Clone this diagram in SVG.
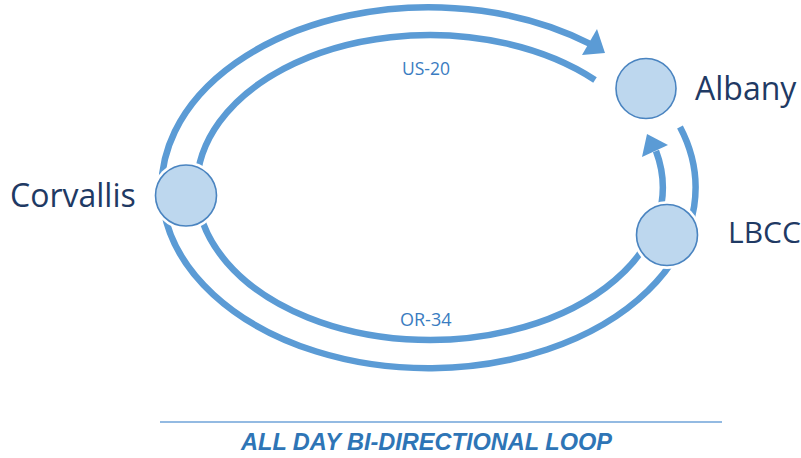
<svg xmlns="http://www.w3.org/2000/svg" width="801" height="458" viewBox="0 0 801 458">
<style>
.loop{fill:none;stroke:#5B9BD5;stroke-width:6.5}
.head{fill:#5B9BD5}
.halo{fill:#fff}
.node{fill:#BDD7EE;stroke:#4A84C0;stroke-width:1.6}
.name{font-family:"Open Sans","Liberation Sans",sans-serif;fill:#1F3A64}
.road{font-family:"Open Sans","Liberation Sans",sans-serif;fill:#3A7CC1}
.title{font-family:"Liberation Sans",Arial,sans-serif;font-weight:bold;font-style:italic;fill:#2E75B6}
</style>
<rect width="801" height="458" fill="#fff"/>
<g id="connectors">
  <path class="loop" d="M 680 127 A 267 180.5 0 1 1 589.5 43.7"/>
  <polygon class="head" points="597,29 605,53 582,55"/>
  <path class="loop" d="M 595 80 A 233 152.5 0 1 0 656 151"/>
  <polygon class="head" points="647,134 668,145 642,157"/>
  <text class="road" x="402" y="75" font-size="17.5">US-20</text>
  <text class="road" x="400" y="326" font-size="18">OR-34</text>
</g>
<g id="corvallis">
  <circle class="halo" cx="186" cy="195.5" r="34"/>
  <circle class="node" cx="186" cy="195.5" r="30.5"/>
  <text class="name" x="10" y="207" font-size="32">Corvallis</text>
</g>
<g id="albany">
  <circle class="halo" cx="646" cy="88.5" r="33.5"/>
  <circle class="node" cx="646" cy="88.5" r="30"/>
  <text class="name" x="695" y="100" font-size="32">Albany</text>
</g>
<g id="lbcc">
  <circle class="halo" cx="667" cy="235" r="34"/>
  <circle class="node" cx="667" cy="235" r="30.5"/>
  <text class="name" x="728" y="243" font-size="30">LBCC</text>
</g>
<g id="caption">
  <line x1="160" y1="422" x2="722" y2="422" stroke="#6FA3D8" stroke-width="1.5"/>
  <text class="title" x="241" y="450" font-size="23" textLength="371" lengthAdjust="spacingAndGlyphs">ALL DAY BI-DIRECTIONAL LOOP</text>
</g>
</svg>
